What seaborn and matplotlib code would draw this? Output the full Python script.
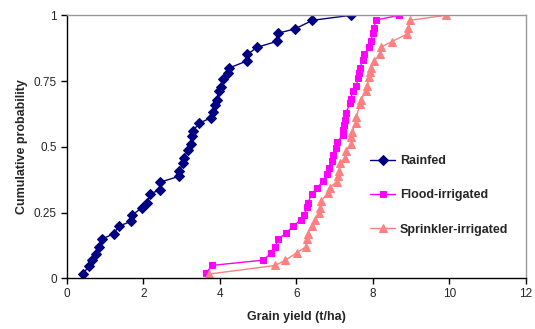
import matplotlib
matplotlib.use("Agg")
import matplotlib.pyplot as plt
import seaborn as sns
import pandas as pd

# ---- data ----
rainfed_x = [0.43, 0.58, 0.66, 0.76, 0.84, 0.91, 1.23, 1.36, 1.69, 1.70, 1.96, 2.11, 2.17, 2.44,
             2.45, 2.94, 2.94, 3.04, 3.06, 3.17, 3.26, 3.27, 3.30, 3.45, 3.78, 3.82, 3.88, 3.92,
             3.98, 4.03, 4.09, 4.22, 4.25, 4.70, 4.72, 4.97, 5.49, 5.52, 5.96, 6.42, 7.43]
rainfed_p = [0.016, 0.048, 0.068, 0.094, 0.119, 0.148, 0.170, 0.198, 0.217, 0.240, 0.267, 0.286,
             0.320, 0.337, 0.366, 0.388, 0.408, 0.439, 0.459, 0.487, 0.509, 0.540, 0.559, 0.589,
             0.611, 0.631, 0.660, 0.678, 0.712, 0.728, 0.758, 0.780, 0.800, 0.826, 0.851, 0.878,
             0.901, 0.932, 0.948, 0.981, 1.0]

flood_x = [3.64, 3.79, 5.13, 5.35, 5.44, 5.52, 5.73, 5.92, 6.11, 6.20, 6.28, 6.30, 6.40, 6.53,
           6.70, 6.80, 6.86, 6.92, 6.95, 7.03, 7.06, 7.21, 7.22, 7.25, 7.27, 7.29, 7.40, 7.42,
           7.48, 7.57, 7.61, 7.63, 7.66, 7.73, 7.78, 7.90, 7.94, 8.01, 8.02, 8.08, 8.68]
flood_p = [0.019, 0.049, 0.069, 0.097, 0.119, 0.148, 0.172, 0.199, 0.221, 0.241, 0.270, 0.287,
           0.320, 0.343, 0.369, 0.396, 0.419, 0.445, 0.468, 0.494, 0.518, 0.544, 0.563, 0.582,
           0.601, 0.627, 0.666, 0.683, 0.713, 0.733, 0.761, 0.780, 0.799, 0.830, 0.853, 0.880,
           0.902, 0.933, 0.950, 0.982, 1.0]

sprinkler_x = [3.71, 5.45, 5.70, 6.01, 6.25, 6.28, 6.31, 6.40, 6.48, 6.60, 6.61, 6.64, 6.83, 6.87,
               7.05, 7.08, 7.12, 7.15, 7.27, 7.29, 7.44, 7.44, 7.45, 7.56, 7.57, 7.66, 7.68, 7.82,
               7.84, 7.91, 7.93, 7.96, 8.02, 8.18, 8.20, 8.49, 8.90, 8.93, 8.96, 9.91]
sprinkler_p = [0.016, 0.049, 0.068, 0.097, 0.120, 0.148, 0.170, 0.198, 0.222, 0.248, 0.267, 0.294,
               0.323, 0.343, 0.368, 0.389, 0.408, 0.440, 0.457, 0.484, 0.509, 0.539, 0.558, 0.592,
               0.614, 0.663, 0.678, 0.712, 0.731, 0.765, 0.783, 0.800, 0.826, 0.851, 0.878, 0.900,
               0.929, 0.951, 0.981, 1.0]

series_names = ["Rainfed", "Flood-irrigated", "Sprinkler-irrigated"]
x_ticks = [0, 2, 4, 6, 8, 10, 12]
y_ticks = [0, 0.25, 0.5, 0.75, 1]
y_tick_labels = ["0", "0.25", "0.5", "0.75", "1"]

sns.set_style("white")
plt.rcParams['font.family'] = ['Liberation Sans', 'DejaVu Sans']

fig = plt.figure(figsize=(5.35, 3.29), dpi=100)
ax = fig.add_axes([66.7/535, 1-278.3/329, (526-66.7)/535, (278.3-15.3)/329])

styles = [
    dict(color="#000080", marker="D", markersize=5, mec="#000080"),
    dict(color="#FF00FF", marker="s", markersize=5, mec="#FF00FF"),
    dict(color="#FF8080", marker="^", markersize=6, mec="#FF8080"),
]
data = [(rainfed_x, rainfed_p), (flood_x, flood_p), (sprinkler_x, sprinkler_p)]
for (xs, ps), name, st in zip(data, series_names, styles):
    df = pd.DataFrame({"x": xs, "p": ps})
    sns.lineplot(data=df, x="x", y="p", ax=ax, estimator=None, sort=False,
                 linewidth=1, label=name, **st)

ax.set_xlim(0, 12)
ax.set_ylim(0, 1)
ax.set_xticks(x_ticks)
ax.set_xticklabels([str(t) for t in x_ticks])
ax.set_yticks(y_ticks)
ax.set_yticklabels(y_tick_labels)
ax.tick_params(axis='both', direction='out', length=4, width=1, color='black',
               labelsize=8.5, pad=3, bottom=True, left=True)

for s in ['left', 'bottom']:
    ax.spines[s].set_color('black')
    ax.spines[s].set_linewidth(1)
for s in ['top', 'right']:
    ax.spines[s].set_color('#999999')
    ax.spines[s].set_linewidth(1)

ax.set_xlabel("Grain yield (t/ha)", fontsize=9, fontweight='bold')
ax.set_ylabel("Cumulative probability", fontsize=9, fontweight='bold')
ax.xaxis.set_label_coords(0.5, -0.125)
ax.yaxis.set_label_coords(-0.085, 0.5)

leg = ax.legend(loc='upper left', bbox_to_anchor=(370/535, 1-155/329),
                bbox_transform=fig.transFigure, frameon=False,
                prop={'weight': 'bold', 'size': 9}, labelspacing=1.78,
                handlelength=2.0, handletextpad=0.4, borderpad=0, borderaxespad=0)

fig.savefig("out.png", dpi=100)
